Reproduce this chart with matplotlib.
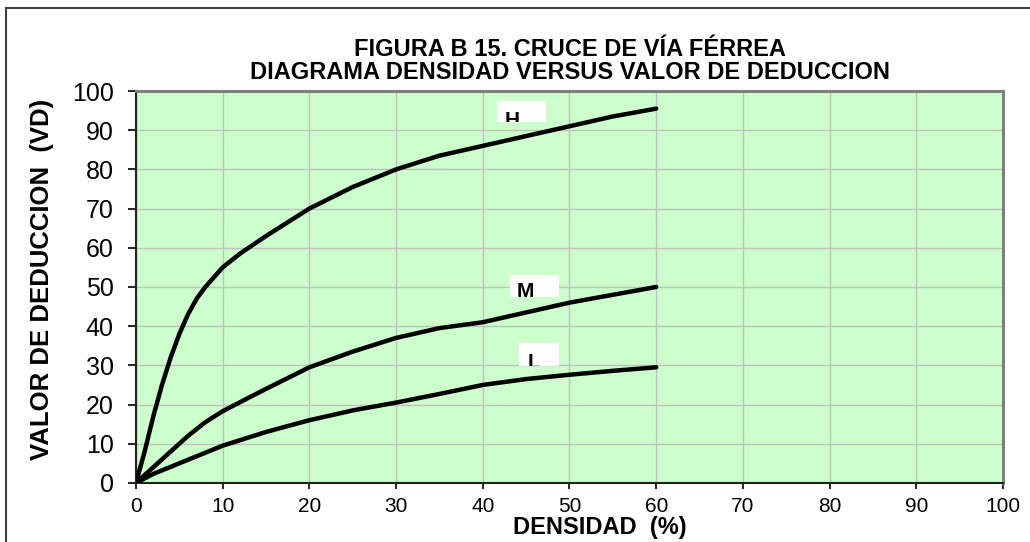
import matplotlib
matplotlib.use('Agg')
import matplotlib.pyplot as plt
from matplotlib.patches import Rectangle
from matplotlib.transforms import Bbox, TransformedBbox

plt.rcParams['font.family'] = ['Liberation Sans', 'DejaVu Sans']

# densidad (%) y valor de deduccion para cada severidad
dens_h = [0, 1, 2, 3, 4, 5, 6, 7, 8, 9, 10, 12, 15, 20, 25, 30, 35, 40, 45, 50, 55, 60]
vd_h = [0, 8, 17, 25, 32, 38, 43, 47, 50, 52.5, 55, 58.5, 63, 70, 75.5, 80, 83.5, 86, 88.5, 91, 93.5, 95.5]

dens_m = [0, 2, 4, 6, 8, 10, 12, 15, 20, 25, 30, 35, 40, 45, 50, 55, 60]
vd_m = [0, 4, 8, 12, 15.5, 18.3, 20.6, 24, 29.5, 33.5, 37, 39.5, 41, 43.5, 46, 48, 50]

dens_l = [0, 2, 5, 10, 15, 20, 25, 30, 35, 40, 45, 50, 55, 60]
vd_l = [0, 2.3, 5, 9.5, 13, 16, 18.5, 20.5, 22.7, 25, 26.5, 27.6, 28.6, 29.5]

etiquetas = ['H', 'M', 'L']

fig = plt.figure(figsize=(10.3, 5.42), dpi=100)
ax = fig.add_axes([0.132, 0.109, 0.8418, 0.7231])

# marco exterior del grafico (cortado a la derecha y abajo)
fig.patches.append(Rectangle((6 / 1030, -0.1), 1.2, 1.1 - 8 / 542,
                             transform=fig.transFigure, fill=False,
                             edgecolor='#404040', linewidth=1.5))

ax.set_facecolor('#ccffcc')
ax.plot(dens_h, vd_h, color='black', lw=3.2, solid_capstyle='round',
        solid_joinstyle='round', zorder=3)
ax.plot(dens_m, vd_m, color='black', lw=3.2, solid_capstyle='round',
        solid_joinstyle='round', zorder=3)
ax.plot(dens_l, vd_l, color='black', lw=3.2, solid_capstyle='round',
        solid_joinstyle='round', zorder=3)

# cuadros de etiqueta (texto recortado como en el original)
cajas = [(41.6, 92.1, 5.7, 5.3), (43.1, 47.4, 5.7, 5.7), (44.2, 29.8, 4.6, 5.9)]
pos_txt = [(42.5, 91.0), (43.9, 47.4), (45.2, 29.4)]
for (x0, y0, w, h), (tx, ty), lab in zip(cajas, pos_txt, etiquetas):
    r = Rectangle((x0, y0), w, h, facecolor='white', edgecolor='none', zorder=4)
    ax.add_patch(r)
    t = ax.text(tx, ty, lab, fontsize=15, fontweight='bold', zorder=5,
                ha='left', va='baseline')
    t.set_clip_box(TransformedBbox(Bbox.from_bounds(x0, y0, w, h), ax.transData))
    t.set_clip_on(True)

ax.set_xlim(0, 100)
ax.set_ylim(0, 100)
ax.set_xticks(range(0, 101, 10))
ax.set_yticks(range(0, 101, 10))
ax.grid(True, color='#c0c0c0', lw=1)
ax.set_axisbelow(True)
ax.tick_params(axis='x', labelsize=15, length=4, direction='out', width=1.2, pad=6)
ax.tick_params(axis='y', labelsize=18, length=6, direction='out', width=1.2, pad=10)

for s in ['top', 'right']:
    ax.spines[s].set_color('#808080')
    ax.spines[s].set_linewidth(2.2)
for s in ['left', 'bottom']:
    ax.spines[s].set_color('#202020')
    ax.spines[s].set_linewidth(1.5)

ax.set_ylabel('VALOR DE DEDUCCION  (VD)', fontsize=18.5, fontweight='bold')
ax.yaxis.set_label_coords(-0.094, 0.52)
fig.text(0.5825, 0.026, 'DENSIDAD  (%)', ha='center', va='center',
         fontsize=17, fontweight='bold')

fig.text(0.553, 0.909, 'FIGURA B 15. CRUCE DE VÍA FÉRREA', ha='center', va='center',
         fontsize=17, fontweight='bold')
fig.text(0.553, 0.867, 'DIAGRAMA DENSIDAD VERSUS VALOR DE DEDUCCION', ha='center', va='center',
         fontsize=17, fontweight='bold')

fig.savefig('out.png', dpi=100)
